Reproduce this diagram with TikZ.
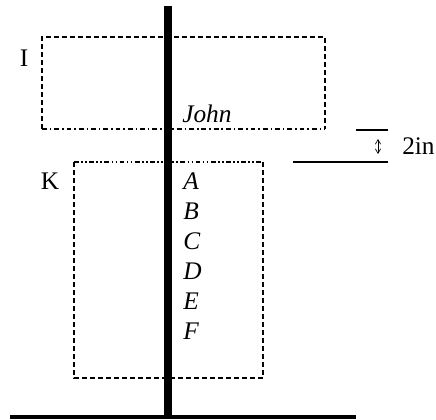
\documentclass[tikz,border=0pt]{standalone}
\usepackage{fontspec}
\setmainfont{Liberation Serif}
\usetikzlibrary{arrows.meta, positioning}

\begin{document}
\begin{tikzpicture}[
    x=0.75pt, y=-0.75pt,
    font=\fontsize{19}{22}\selectfont,
    >={Straight Barb[length=1.2mm, width=1.4mm]},
    pole/.style={line width=6.3pt},
    ground/.style={line width=2.6pt},
    dashbox/.style={line width=1.6pt, dash pattern=on 3.6pt off 2.4pt},
    dotbox/.style={line width=1.6pt, dash pattern=on 3.6pt off 2.2pt on 1.2pt off 2.2pt},
    dotdotbox/.style={line width=1.6pt, dash pattern=on 3.6pt off 1.8pt on 1.2pt off 1.8pt on 1.2pt off 1.8pt},
    measure/.style={line width=2pt},
    item/.style={anchor=west, inner sep=0pt, font=\fontsize{19}{22}\selectfont\itshape},
    tag/.style={inner sep=0pt}
]
\useasboundingbox (0,0) rectangle (436,419);

% Box I
\coordinate (i_nw) at (42,37);
\coordinate (i_ne) at (325,37);
\coordinate (i_se) at (325,129);
\coordinate (i_sw) at (42,129);
\draw[dashbox] (i_sw) -- (i_nw) -- (i_ne) -- (i_se);
\draw[dotbox] (i_sw) -- (i_se);
\node[tag] (lab_i) at (24,58) {I};

% Box K
\coordinate (k_nw) at (74,162);
\coordinate (k_ne) at (263,162);
\coordinate (k_se) at (263,378);
\coordinate (k_sw) at (74,378);
\draw[dotdotbox] (k_nw) -- (k_ne);
\draw[dashbox] (k_nw) -- (k_sw) -- (k_se) -- (k_ne);
\node[tag] (lab_k) at (50,181) {K};

% Pole and ground
\coordinate (pole_top) at (168,6);
\coordinate (pole_bot) at (168,417);
\draw[pole] (pole_top) -- (pole_bot);
\coordinate (gnd_l) at (10,417);
\coordinate (gnd_r) at (356,417);
\draw[ground] (gnd_l) -- (gnd_r);

% Names
\node[item] (john) at (182,114) {John};
\foreach \name [count=\i from 0] in {A,B,C,D,E,F}
    \node[item] (\name) at (183,181+30*\i) {\name};

% Spacing mark
\coordinate (top_l) at (356,130);
\coordinate (top_r) at (388,130);
\coordinate (bot_l) at (293,162);
\coordinate (bot_r) at (388,162);
\draw[measure] (top_l) -- (top_r);
\draw[measure] (bot_l) -- (bot_r);
\coordinate (gap_t) at (378,139);
\coordinate (gap_b) at (378,154);
\draw[<->, line width=0.5pt] (gap_t) -- (gap_b);
\node[tag, anchor=west] (gap) at (402,146) {2in};

\end{tikzpicture}
\end{document}
